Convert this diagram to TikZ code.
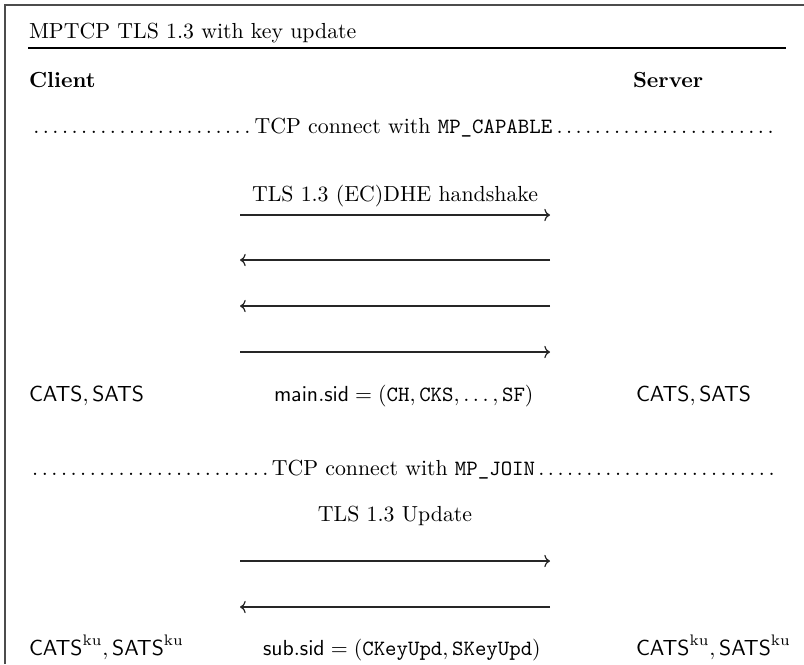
\documentclass[tikz,border=0pt]{standalone}
\usepackage{amsmath}
\usetikzlibrary{arrows.meta}
\begin{document}
\begin{tikzpicture}[x=0.4587pt,y=-0.4587pt,
  lbl/.style={anchor=base west, inner sep=0pt, outer sep=0pt},
  ctr/.style={anchor=base, inner sep=0pt, outer sep=0pt},
  sep/.style={anchor=base west, inner sep=0pt, outer sep=0pt, text width=343.5pt},
  msg/.style={-{To[length=2.6pt,width=5.6pt]}, line width=0.55pt, draw=black!85},
  frame/.style={line width=0.6pt, draw=black!70}]
\useasboundingbox (0,0) rectangle (804,664);

% open frame (top and left edge)
\coordinate (fbl) at (5,664);
\coordinate (ftl) at (5,5);
\coordinate (ftr) at (804,5);
\draw[frame] (fbl) -- (ftl) -- (ftr);

% title and rule
\node[lbl] (title) at (29,38) {MPTCP TLS 1.3 with key update};
\coordinate (rl) at (28,48);
\coordinate (rr) at (786,48);
\draw[line width=0.5pt] (rl) -- (rr);

% parties
\node[lbl] (client) at (29,87) {\textbf{Client}};
\node[lbl] (server) at (633,87) {\textbf{Server}};

% TCP connection with MP_CAPABLE
\node[sep] (tcp1) at (29,133) {\dotfill TCP connect with \texttt{MP\_CAPABLE}\dotfill};

% TLS 1.3 handshake
\node[ctr] (hs) at (395,201) {TLS 1.3 (EC)DHE handshake};
\coordinate (c1) at (240,215); \coordinate (s1) at (550,215);
\coordinate (c2) at (240,260); \coordinate (s2) at (550,260);
\coordinate (c3) at (240,306); \coordinate (s3) at (550,306);
\coordinate (c4) at (240,352); \coordinate (s4) at (550,352);
\draw[msg] (c1) -- (s1);
\draw[msg] (s2) -- (c2);
\draw[msg] (s3) -- (c3);
\draw[msg] (c4) -- (s4);

% keys after the main handshake
\node[lbl] (ckeys) at (29,401) {$\mathsf{CATS}, \mathsf{SATS}$};
\node[lbl] (msid) at (274,401) {$\mathsf{main.sid} = (\mathtt{CH}, \mathtt{CKS}, \dots, \mathtt{SF})$};
\node[lbl] (skeys) at (636,401) {$\mathsf{CATS}, \mathsf{SATS}$};

% TCP connection with MP_JOIN
\node[sep] (tcp2) at (29,475) {\dotfill TCP connect with \texttt{MP\_JOIN}\dotfill};

% TLS 1.3 key update
\node[ctr] (upd) at (395,521) {TLS 1.3 Update};
\coordinate (c5) at (240,561); \coordinate (s5) at (550,561);
\coordinate (c6) at (240,607); \coordinate (s6) at (550,607);
\draw[msg] (c5) -- (s5);
\draw[msg] (s6) -- (c6);

% keys after the update
\node[lbl] (ckeysku) at (29,655) {$\mathsf{CATS}^{\mathrm{ku}}, \mathsf{SATS}^{\mathrm{ku}}$};
\node[lbl] (ssid) at (263,655) {$\mathsf{sub.sid} = (\mathtt{CKeyUpd}, \mathtt{SKeyUpd})$};
\node[lbl] (skeysku) at (636,655) {$\mathsf{CATS}^{\mathrm{ku}}, \mathsf{SATS}^{\mathrm{ku}}$};
\end{tikzpicture}
\end{document}
